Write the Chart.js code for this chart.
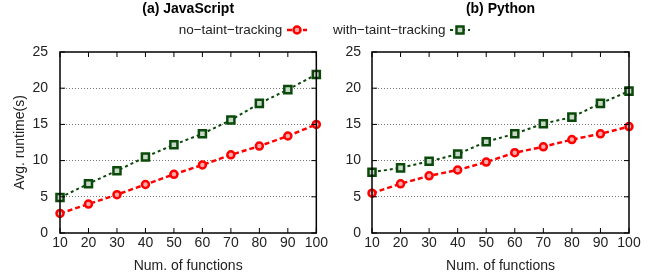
<!DOCTYPE html>
<html>
<head>
<meta charset="utf-8">
<script src="https://cdn.jsdelivr.net/npm/chart.js@4"></script>
<style>
  body { margin: 0; background: #fff; font-family: "Liberation Sans", Arial, sans-serif; }
  #wrap { position: relative; width: 657px; height: 279px; overflow: hidden; }
  canvas { position: absolute; top: 0; }
  .leg { position: absolute; top: 21px; font-size: 13.5px; color: #222; white-space: nowrap; line-height: 17px; }
  .leg svg { vertical-align: middle; }
</style>
</head>
<body>
<div id="wrap">
  <canvas id="jsChart" width="330" height="279" style="left:0"></canvas>
  <canvas id="pyChart" width="327" height="279" style="left:330px"></canvas>
  <div class="leg" style="right:349px">no−taint−tracking <svg width="22" height="12"><line x1="1" y1="6" x2="21" y2="6" stroke="#f00" stroke-width="2.5" stroke-dasharray="5,3"/><circle cx="11" cy="6" r="3.5" fill="#ffaaaa" stroke="#f00" stroke-width="2.5"/></svg></div>
  <div class="leg" style="left:333px">with−taint−tracking <svg width="22" height="12"><line x1="1" y1="6" x2="21" y2="6" stroke="#0b4a0b" stroke-width="2" stroke-dasharray="3,3"/><rect x="7.5" y="2.5" width="7" height="7" fill="#c8d8c8" stroke="#0b4a0b" stroke-width="2.5"/></svg></div>
</div>
<script>
// x values (number of functions)
const functionCounts = [10, 20, 30, 40, 50, 60, 70, 80, 90, 100];
// average runtime in seconds
const jsNoTaint   = [2.7, 4.0, 5.3, 6.7, 8.1, 9.4, 10.8, 12.0, 13.4, 15.0];
const jsWithTaint = [4.9, 6.8, 8.6, 10.5, 12.2, 13.7, 15.6, 17.9, 19.8, 21.9];
const pyNoTaint   = [5.5, 6.8, 7.9, 8.7, 9.8, 11.1, 11.9, 12.9, 13.7, 14.7];
const pyWithTaint = [8.4, 9.0, 9.9, 10.9, 12.6, 13.7, 15.1, 16.0, 17.9, 19.6];
const yTicks = [0, 5, 10, 15, 20, 25];

const FONT = "'Liberation Sans', Arial, sans-serif";

function toPoints(values) {
    return functionCounts.map((x, i) => ({ x: x, y: values[i] }));
}

// gnuplot style frame: full box plus small inward ticks on every side
const framePlugin = {
    id: 'frame',
    afterDraw(chart) {
        const ctx = chart.ctx;
        const a = chart.chartArea;
        const xs = chart.scales.x, ys = chart.scales.y;
        ctx.save();
        ctx.strokeStyle = '#000';
        ctx.lineWidth = 1;
        ctx.beginPath();
        functionCounts.forEach(v => {
            const px = xs.getPixelForValue(v);
            ctx.moveTo(px, a.bottom); ctx.lineTo(px, a.bottom - 5);
            ctx.moveTo(px, a.top); ctx.lineTo(px, a.top + 5);
        });
        yTicks.forEach(v => {
            const py = ys.getPixelForValue(v);
            ctx.moveTo(a.left, py); ctx.lineTo(a.left + 5, py);
            ctx.moveTo(a.right, py); ctx.lineTo(a.right - 5, py);
        });
        ctx.stroke();
        ctx.lineWidth = 1.5;
        ctx.strokeRect(a.left, a.top, a.right - a.left, a.bottom - a.top);
        ctx.restore();
    }
};

function makeChart(id, title, noTaint, withTaint, yWidth, rightPad, showYTitle, yPad) {
    return new Chart(document.getElementById(id), {
        type: 'line',
        data: {
            datasets: [{
                label: 'no-taint-tracking',
                data: toPoints(noTaint),
                borderColor: '#ff0000',
                borderWidth: 2.5,
                borderDash: [5, 3],
                pointStyle: 'circle',
                pointRadius: 3.5,
                pointBorderWidth: 2.5,
                pointBackgroundColor: '#ffaaaa',
                pointBorderColor: '#ff0000',
                clip: false
            }, {
                label: 'with-taint-tracking',
                data: toPoints(withTaint),
                borderColor: '#0b4a0b',
                borderWidth: 2,
                borderDash: [3, 3],
                pointStyle: 'rect',
                pointRadius: 5,
                pointBorderWidth: 2.5,
                pointBackgroundColor: '#c8d8c8',
                pointBorderColor: '#0b4a0b',
                clip: false
            }]
        },
        options: {
            responsive: false,
            animation: false,
            layout: { padding: { top: 0, right: rightPad, bottom: 0, left: 0 } },
            plugins: {
                legend: { display: false },
                tooltip: { enabled: false },
                title: {
                    display: true,
                    text: title,
                    fullSize: false,
                    color: '#000',
                    font: { family: FONT, size: 14, weight: 'bold' },
                    padding: { top: 1, bottom: 34.2 }
                }
            },
            scales: {
                x: {
                    type: 'linear',
                    min: 10,
                    max: 100,
                    afterBuildTicks: (s) => { s.ticks = functionCounts.map(v => ({ value: v })); },
                    afterFit: (s) => { s.height = 46; },
                    grid: { display: false, drawTicks: false },
                    border: { display: false },
                    ticks: { color: '#222', padding: 2, maxRotation: 0, autoSkip: false, font: { family: FONT, size: 14 } },
                    title: {
                        display: true,
                        text: 'Num. of functions',
                        color: '#222',
                        font: { family: FONT, size: 14 },
                        padding: { top: 4, bottom: 4 }
                    }
                },
                y: {
                    min: 0,
                    max: 25,
                    afterBuildTicks: (s) => { s.ticks = yTicks.map(v => ({ value: v })); },
                    afterFit: (s) => { s.width = yWidth; },
                    grid: {
                        drawTicks: false,
                        color: (c) => (c.tick && (c.tick.value === 0 || c.tick.value === 25)) ? 'rgba(0,0,0,0)' : '#777',
                        lineWidth: 1
                    },
                    border: { display: false, dash: [1, 2] },
                    ticks: { color: '#222', padding: yPad, font: { family: FONT, size: 14 } },
                    title: {
                        display: showYTitle,
                        text: 'Avg. runtime(s)',
                        color: '#222',
                        font: { family: FONT, size: 14 },
                        padding: { top: 12, bottom: 0 }
                    }
                }
            }
        },
        plugins: [framePlugin]
    });
}

makeChart('jsChart', '(a) JavaScript', jsNoTaint, jsWithTaint, 60, 13, true, 12);
makeChart('pyChart', '(b) Python', pyNoTaint, pyWithTaint, 42, 28, false, 11);
</script>
</body>
</html>
